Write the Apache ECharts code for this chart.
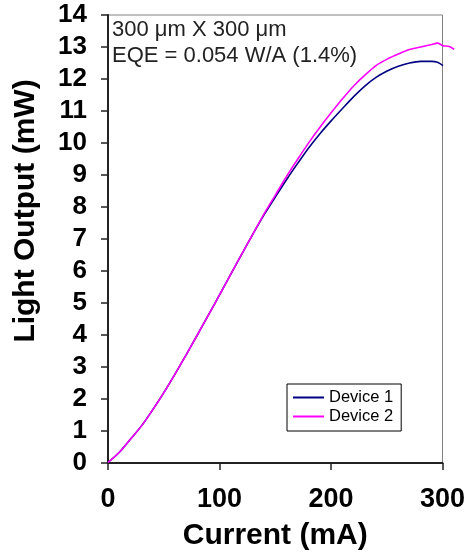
<!DOCTYPE html>
<html>
<head>
<meta charset="utf-8">
<script src="https://cdn.jsdelivr.net/npm/echarts@6/dist/echarts.min.js"></script>
<style>html,body{margin:0;padding:0;background:#fff}#c{width:468px;height:557px}</style>
</head>
<body>
<div id="c"></div>
<script>
const current = [0,10,20,30,40,50,60,70,80,90,100,110,120,130,140,150,160,170,180,190,200,210,220,230,240,250,260,270,280,290,295,300,305,310];
const device1 = [0.02,0.33,0.74,1.16,1.66,2.2,2.78,3.38,4.0,4.63,5.26,5.9,6.54,7.17,7.77,8.32,8.86,9.37,9.86,10.3,10.7,11.08,11.45,11.78,12.05,12.25,12.4,12.5,12.55,12.55,12.52,12.42,null,null];
const device2 = [0.02,0.33,0.74,1.16,1.66,2.2,2.78,3.38,4.0,4.63,5.26,5.9,6.54,7.17,7.8,8.38,8.96,9.5,10.02,10.5,10.95,11.38,11.78,12.12,12.42,12.62,12.78,12.92,13.0,13.08,13.12,13.04,13.02,12.93];
const seriesNames = ['Device 1','Device 2'];
const xTicks = [0,100,200,300];
const xDataMax = 310;
const yMax = 14;
const noteLines = ['300 \u03bcm X 300 \u03bcm','EQE = 0.054 W/A (1.4%)'];

const FF = '"Liberation Sans", Arial, sans-serif';
const pairs = arr => current.map((x,i)=>arr[i]==null?null:[x,arr[i]]).filter(p=>p);

const L = 108, R = 25, T = 15, B = 94, W = 468;
const plotW = W - L - R;
const xMax = xTicks[xTicks.length-1];
const R2 = W - L - plotW * xDataMax / xMax;

const chart = echarts.init(document.getElementById('c'));
chart.setOption({
  animation:false,
  textStyle:{fontFamily:FF},
  grid:[
    {left:L,right:R,top:T,bottom:B,show:true,borderColor:'#808080',borderWidth:1,backgroundColor:'transparent'},
    {left:L,right:R2,top:T,bottom:B,show:false}
  ],
  xAxis:[
    {type:'value',gridIndex:0,min:xTicks[0],max:xMax,interval:100,
    name:'Current (mA)',nameLocation:'middle',nameGap:58,
    nameTextStyle:{fontSize:30,fontWeight:'bold',color:'#000',fontFamily:FF},
    axisLine:{show:true,lineStyle:{color:'#222',width:2}},
    axisTick:{show:true,inside:false,length:7,lineStyle:{color:'#222',width:1.5}},
    axisLabel:{fontSize:27,fontWeight:'bold',color:'#000',margin:23,fontFamily:FF},
    splitLine:{show:false}},
    {type:'value',gridIndex:1,min:0,max:xDataMax,show:false}
  ],
  yAxis:[
    {type:'value',gridIndex:0,min:0,max:yMax,interval:1,
    name:'Light Output (mW)',nameLocation:'middle',nameGap:67,
    nameTextStyle:{fontSize:30,fontWeight:'bold',color:'#000',fontFamily:FF,padding:[0,0,0,56]},
    axisLine:{show:true,lineStyle:{color:'#222',width:2}},
    axisTick:{show:true,inside:false,length:7,lineStyle:{color:'#222',width:1.5}},
    axisLabel:{fontSize:26,fontWeight:'bold',color:'#000',margin:21,fontFamily:FF},
    splitLine:{show:false}},
    {type:'value',gridIndex:1,min:0,max:yMax,show:false}
  ],
  legend:{orient:'vertical',left:287,top:384,icon:'rect',itemWidth:31,itemHeight:2,itemGap:2,
    padding:[5,8,6,6],borderColor:'#000',borderWidth:1,backgroundColor:'#fff',
    textStyle:{fontSize:16.5,color:'#000',lineHeight:17,fontFamily:FF},
    data:seriesNames},
  graphic:[{type:'text',left:112,top:17,z:5,style:{text:noteLines.join('\n'),fontSize:22,lineHeight:26,fill:'#222',fontFamily:FF}}],
  series:[
    {name:seriesNames[0],type:'line',xAxisIndex:1,yAxisIndex:1,data:pairs(device1),showSymbol:false,smooth:0.3,
      lineStyle:{color:'#000080',width:1.6},itemStyle:{color:'#000080'}},
    {name:seriesNames[1],type:'line',xAxisIndex:1,yAxisIndex:1,data:pairs(device2),showSymbol:false,smooth:0.3,
      lineStyle:{color:'#ff00ff',width:1.6},itemStyle:{color:'#ff00ff'}}
  ]
});
</script>
</body>
</html>
